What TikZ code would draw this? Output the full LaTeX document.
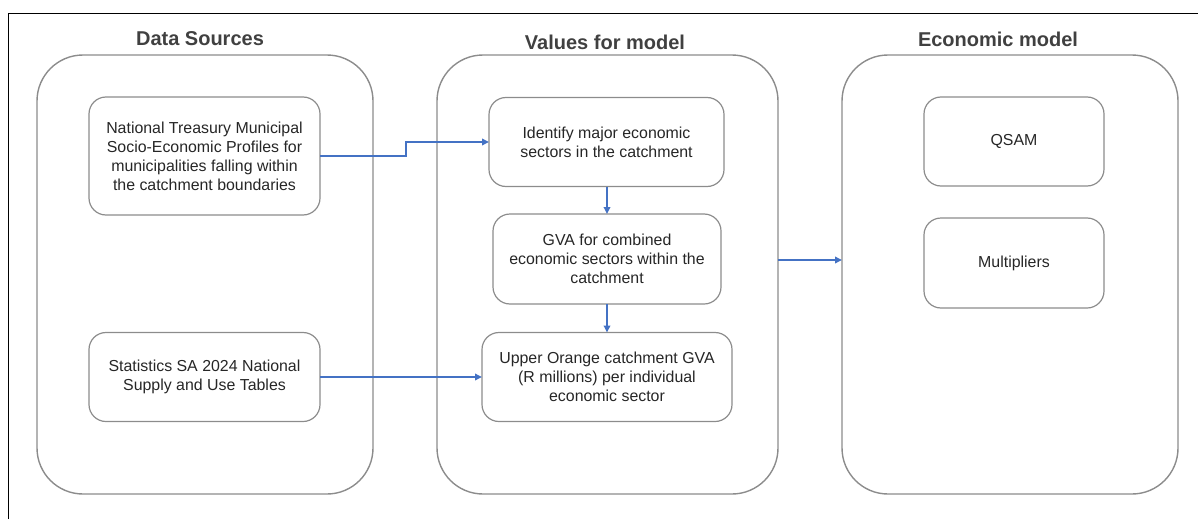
\documentclass[tikz,border=0pt]{standalone}
\usepackage{fontspec}
\setmainfont{Liberation Sans}
\usetikzlibrary{arrows.meta,calc}
\definecolor{boxgray}{HTML}{8C8C8C}
\definecolor{txtgray}{HTML}{262626}
\definecolor{titlegray}{HTML}{404040}
\definecolor{arrowblue}{HTML}{4472C4}
\begin{document}
\begin{tikzpicture}[x=1pt,y=-1pt,
  container/.style={draw=boxgray, line width=1.4pt, rounded corners=46pt, outer sep=0pt, inner sep=0pt},
  stepbox/.style={draw=boxgray, line width=1.2pt, rounded corners=17pt, outer sep=0pt, inner sep=0pt,
    align=center, text=txtgray, font=\fontsize{15.9}{19}\selectfont},
  title/.style={font=\fontsize{20}{22}\selectfont\bfseries, text=titlegray, inner sep=0pt},
  flow/.style={draw=arrowblue, line width=2pt, -{Triangle[length=7pt,width=6.5pt]}}
]
\useasboundingbox (0,0) rectangle (1198,519);
% outer frame (top and left edges visible)
\draw[line width=1pt, black] (8,519) -- (8,14) -- (1198,14);

% containers
\node[container, minimum width=336pt, minimum height=439pt] (c1) at (205,274.5) {};
\node[container, minimum width=341pt, minimum height=439pt] (c2) at (607.5,274.5) {};
\node[container, minimum width=336pt, minimum height=439pt] (c3) at (1010,274.5) {};

% titles
\node[title] (t1) at (200,39) {Data Sources};
\node[title] (t2) at (605,42) {Values for model};
\node[title] (t3) at (998,39) {Economic model};

% boxes
\node[stepbox, minimum width=231pt, minimum height=118pt] (a) at (204.5,156)
  {National Treasury Municipal\\Socio-Economic Profiles for\\municipalities falling within\\the catchment boundaries};
\node[stepbox, minimum width=231pt, minimum height=89pt] (b) at (204.5,377)
  {Statistics SA 2024 National\\Supply and Use Tables};
\node[stepbox, minimum width=235pt, minimum height=89pt] (c) at (606.5,142)
  {Identify major economic\\sectors in the catchment};
\node[stepbox, minimum width=228pt, minimum height=90pt] (d) at (607,259)
  {GVA for combined\\economic sectors within the\\catchment};
\node[stepbox, minimum width=250pt, minimum height=89pt] (e) at (607,377)
  {Upper Orange catchment GVA\\(R millions) per individual\\economic sector};
\node[stepbox, minimum width=180pt, minimum height=89pt] (f) at (1014,141.5) {QSAM};
\node[stepbox, minimum width=180pt, minimum height=90pt] (g) at (1014,263) {Multipliers};

% connectors
\draw[flow] (a.east) -- ++(86,0) |- (c.west);
\draw[flow] (b.east) -- (e.west);
\draw[flow] (c.south -| d.north) -- (d.north);
\draw[flow] (d.south) -- (e.north -| d.south);
\draw[flow] ($(c2.east)+(0,-14.5)$) -- ($(c3.west)+(0,-14.5)$);
\end{tikzpicture}
\end{document}
